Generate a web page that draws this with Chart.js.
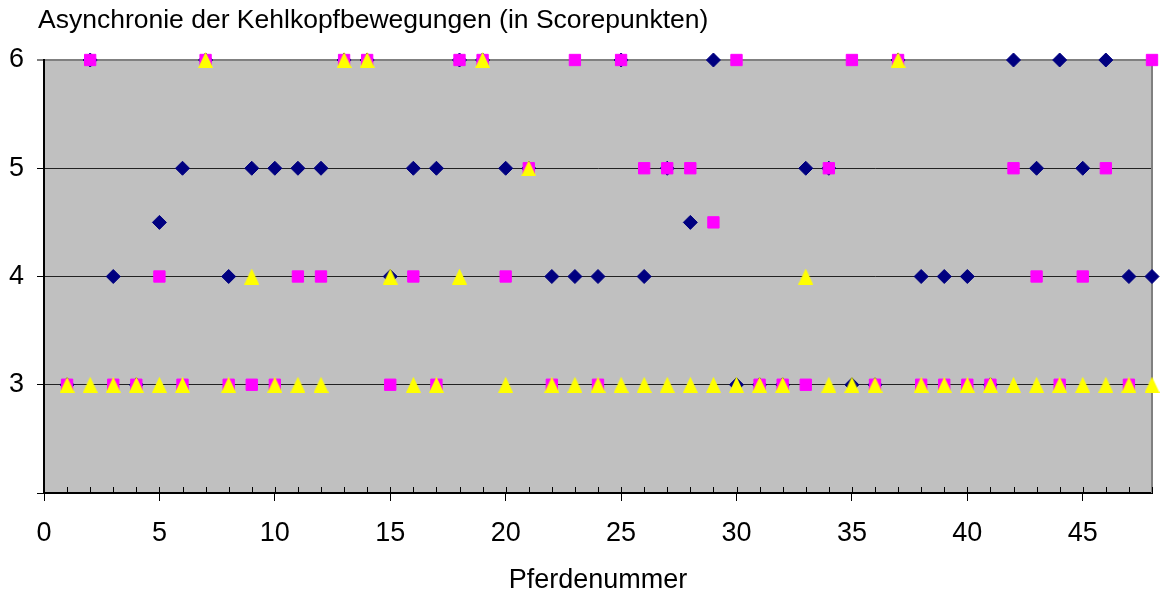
<!DOCTYPE html>
<html>
<head>
<meta charset="utf-8">
<title>Asynchronie der Kehlkopfbewegungen</title>
<script src="https://cdn.jsdelivr.net/npm/chart.js@4/dist/chart.umd.min.js"></script>
<style>
  html, body { margin: 0; padding: 0; background: #ffffff; }
  #wrap { width: 1161px; height: 599px; }
</style>
</head>
<body>
<div id="wrap"><canvas id="chart" width="1161" height="599"></canvas></div>
<script>
// ---- Daten ----
const titelText = 'Asynchronie der Kehlkopfbewegungen (in Scorepunkten)';
const xAchsenTitel = 'Pferdenummer';

const pferdenummern = [1, 2, 3, 4, 5, 6, 7, 8, 9, 10, 11, 12, 13, 14, 15, 16,
  17, 18, 19, 20, 21, 22, 23, 24, 25, 26, 27, 28, 29, 30, 31, 32,
  33, 34, 35, 36, 37, 38, 39, 40, 41, 42, 43, 44, 45, 46, 47, 48];

// Rauten (dunkelblau)
const serie1 = [3, 6, 4, 3, 4.5, 5, 6, 4, 5, 5, 5, 5, 6, 6, 4, 5,
  5, 6, 6, 5, 5, 4, 4, 4, 6, 4, 5, 4.5, 6, 3, 3, 3,
  5, 5, 3, 3, 6, 4, 4, 4, 3, 6, 5, 6, 5, 6, 4, 4];

// Quadrate (magenta)
const serie2 = [3, 6, 3, 3, 4, 3, 6, 3, 3, 3, 4, 4, 6, 6, 3, 4,
  3, 6, 6, 4, 5, 3, 6, 3, 6, 5, 5, 5, 4.5, 6, 3, 3,
  3, 5, 6, 3, 6, 3, 3, 3, 3, 5, 4, 3, 4, 5, 3, 6];

// Dreiecke (gelb)
const serie3 = [3, 3, 3, 3, 3, 3, 6, 3, 4, 3, 3, 3, 6, 6, 4, 3,
  3, 4, 6, 3, 5, 3, 3, 3, 3, 3, 3, 3, 3, 3, 3, 3,
  4, 3, 3, 3, 6, 3, 3, 3, 3, 3, 3, 3, 3, 3, 3, 3];

const xTickWerte = [0, 5, 10, 15, 20, 25, 30, 35, 40, 45];
const yTickWerte = [2, 3, 4, 5, 6];
const yTickLabels = ['', '3', '4', '5', '6'];

// ---- Darstellung ----
const FONT = 'Liberation Sans, Arial, Helvetica, sans-serif';

function punkte(werte) {
  return pferdenummern.map((n, i) => ({ x: n, y: werte[i] }));
}

// gelbes Dreieck, mittig auf den Punkt gesetzt
function dreieckSymbol(breite, hoehe, farbe) {
  const c = document.createElement('canvas');
  c.width = breite; c.height = hoehe;
  const g = c.getContext('2d');
  g.fillStyle = farbe;
  g.beginPath();
  g.moveTo(0, hoehe);
  g.lineTo(breite / 2, 0);
  g.lineTo(breite, hoehe);
  g.closePath();
  g.fill();
  return c;
}

const hintergrund = {
  id: 'hintergrund',
  beforeDraw(chart) {
    const { ctx, chartArea: a } = chart;
    ctx.save();
    ctx.fillStyle = '#ffffff';
    ctx.fillRect(0, 0, chart.width, chart.height);
    ctx.fillStyle = '#c0c0c0';
    ctx.fillRect(a.left, a.top, a.right - a.left, a.bottom - a.top);
    ctx.restore();
  }
};

const rahmen = {
  id: 'rahmen',
  beforeDatasetsDraw(chart) {
    const { ctx, chartArea: a, scales } = chart;
    ctx.save();
    // rechter Rand der Zeichenfläche
    ctx.strokeStyle = '#808080';
    ctx.lineWidth = 2;
    ctx.beginPath();
    ctx.moveTo(a.right, a.top);
    ctx.lineTo(a.right, a.bottom);
    ctx.stroke();
    // kleine Teilstriche nach innen bei jeder Pferdenummer
    ctx.strokeStyle = '#000000';
    ctx.lineWidth = 1;
    ctx.beginPath();
    for (let v = scales.x.min; v <= scales.x.max; v++) {
      const px = Math.round(scales.x.getPixelForValue(v)) + 0.5;
      ctx.moveTo(px, a.bottom - 6);
      ctx.lineTo(px, a.bottom);
    }
    ctx.stroke();
    ctx.restore();
  },
  afterDraw(chart) {
    const { ctx } = chart;
    ctx.save();
    ctx.fillStyle = '#000000';
    ctx.font = '26.5px ' + FONT;
    ctx.textAlign = 'left';
    ctx.textBaseline = 'alphabetic';
    ctx.fillText(titelText, 38, 28);
    ctx.restore();
  }
};

new Chart(document.getElementById('chart'), {
  type: 'scatter',
  data: {
    datasets: [
      {
        label: 'Serie 1',
        data: punkte(serie1),
        pointStyle: 'rectRot',
        pointRadius: 7,
        pointHoverRadius: 7,
        backgroundColor: '#000080',
        borderColor: '#000080',
        borderWidth: 1,
        order: 3,
        clip: false
      },
      {
        label: 'Serie 2',
        data: punkte(serie2),
        pointStyle: 'rect',
        pointRadius: 8,
        pointHoverRadius: 8,
        backgroundColor: '#ff00ff',
        borderColor: '#ff00ff',
        borderWidth: 1,
        order: 2,
        clip: false
      },
      {
        label: 'Serie 3',
        data: punkte(serie3),
        pointStyle: dreieckSymbol(15, 16, '#ffff00'),
        pointRadius: 8,
        pointHoverRadius: 8,
        backgroundColor: '#ffff00',
        borderColor: '#ffff00',
        order: 1,
        clip: false
      }
    ]
  },
  options: {
    responsive: false,
    devicePixelRatio: 1,
    animation: false,
    events: [],
    layout: { padding: { top: 60, right: 8, bottom: 0, left: 0 } },
    plugins: {
      legend: { display: false },
      tooltip: { enabled: false },
      title: { display: false }
    },
    scales: {
      x: {
        type: 'linear',
        min: 0,
        max: 48,
        afterBuildTicks(s) { s.ticks = xTickWerte.map(v => ({ value: v })); },
        afterFit(s) { s.height = 106; },
        ticks: {
          autoSkip: false,
          maxRotation: 0,
          padding: 16,
          color: '#000000',
          font: { family: FONT, size: 27 }
        },
        grid: {
          drawOnChartArea: false,
          drawTicks: true,
          tickLength: 8,
          color: '#000000',
          lineWidth: 1
        },
        border: { display: true, color: '#000000', width: 2 },
        title: {
          display: true,
          text: xAchsenTitel,
          color: '#000000',
          font: { family: FONT, size: 27 },
          padding: { top: 0, bottom: 2 }
        }
      },
      y: {
        type: 'linear',
        min: 2,
        max: 6,
        afterBuildTicks(s) { s.ticks = yTickWerte.map(v => ({ value: v })); },
        afterFit(s) { s.width = 44; },
        ticks: {
          padding: 13,
          color: '#000000',
          font: { family: FONT, size: 27 },
          callback(v) { return yTickLabels[yTickWerte.indexOf(v)]; }
        },
        grid: {
          drawTicks: true,
          tickLength: 7,
          tickColor: '#000000',
          tickWidth: 1,
          color(c) { return c.tick && c.tick.value === 6 ? '#808080' : '#222222'; },
          lineWidth(c) { return c.tick && c.tick.value === 6 ? 2 : 1; }
        },
        border: { display: true, color: '#000000', width: 2 }
      }
    }
  },
  plugins: [hintergrund, rahmen]
});
</script>
</body>
</html>
